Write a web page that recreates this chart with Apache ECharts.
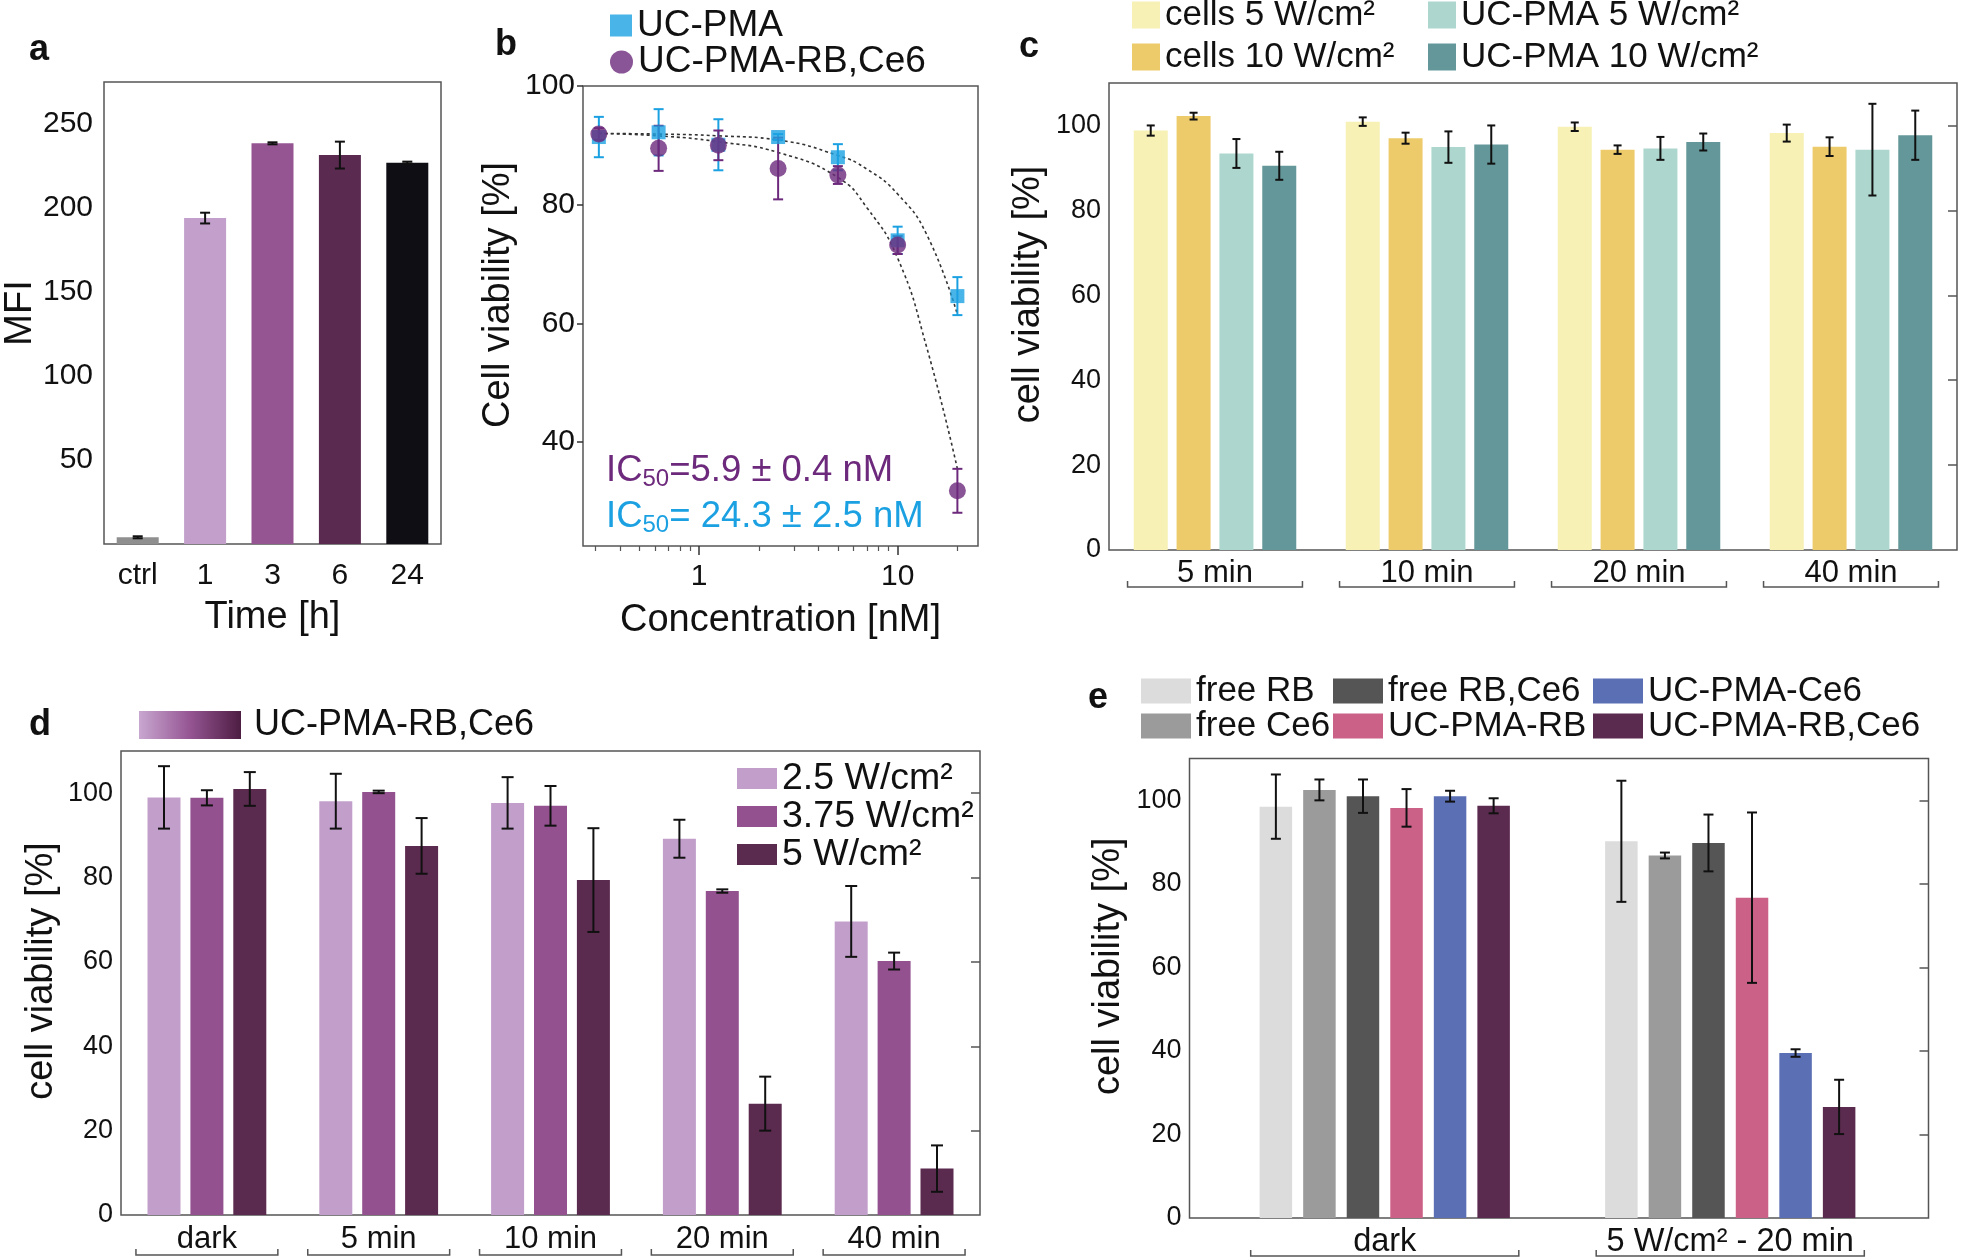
<!DOCTYPE html>
<html>
<head>
<meta charset="utf-8">
<script src="https://cdn.jsdelivr.net/npm/echarts@6/dist/echarts.min.js"></script>
<style>
  html, body { margin: 0; padding: 0; background: #fff; }
  #chart { width: 1961px; height: 1258px; }
</style>
</head>
<body>
<div id="chart"></div>
<script>
// ---- panel a: MFI over time
const aCategories = ['ctrl', '1', '3', '6', '24'];
const aValues = [4, 194, 238.5, 231.5, 227];
const aErrors = [0.6, 3.2, 0.6, 8, 0.6];
const aTicks = [50, 100, 150, 200, 250];

// ---- panel b: dose response
const bConc = [0.3125, 0.625, 1.25, 2.5, 5, 10, 20];
const bPmaMean = [91.4, 92.2, 90.1, 91.4, 88.0, 74.0, 64.6];
const bPmaErr = [3.4, 3.9, 4.3, 0.5, 2.2, 2.3, 3.2];
const bRbCe6Mean = [91.9, 89.5, 90.0, 86.1, 85.0, 73.2, 31.8];
const bRbCe6Err = [1.0, 3.8, 2.5, 5.2, 1.5, 1.5, 3.7];
const bFitConc = [0.3125, 0.625, 1.25, 2.5, 5, 7, 10, 14, 20];
const bFitRbCe6 = [92, 91.6, 90.6, 88.8, 84.6, 79.5, 71, 56, 35.5];
const bFitPma = [92, 91.9, 91.6, 90.9, 88.3, 86, 81.8, 75, 61.5];
const bMajorTicks = [1, 10];
const bMinorTicks = [0.3, 0.4, 0.5, 0.6, 0.7, 0.8, 0.9, 2, 3, 4, 5, 6, 7, 8, 9, 20];
const bYTicks = [40, 60, 80, 100];

// ---- panel c: laser controls
const cGroups = ['5 min', '10 min', '20 min', '40 min'];
const cCells5 = [98.8, 100.9, 99.7, 98.2];
const cCells5Err = [1.2, 1.0, 1.0, 2.0];
const cCells10 = [102.2, 97.0, 94.3, 95.0];
const cCells10Err = [0.8, 1.3, 1.0, 2.2];
const cPma5 = [93.4, 94.9, 94.6, 94.3];
const cPma5Err = [3.4, 3.7, 2.7, 10.8];
const cPma10 = [90.5, 95.5, 96.1, 97.7];
const cPma10Err = [3.3, 4.5, 2.0, 5.8];

// ---- panel d: UC-PMA-RB,Ce6 at three powers
const dGroups = ['dark', '5 min', '10 min', '20 min', '40 min'];
const d25 = [99.0, 98.1, 97.7, 89.2, 69.6];
const d25Err = [7.4, 6.5, 6.1, 4.5, 8.4];
const d375 = [98.9, 100.3, 97.0, 76.8, 60.2];
const d375Err = [1.8, 0.3, 4.7, 0.4, 2.0];
const d5 = [101.0, 87.5, 79.4, 26.4, 11.0];
const d5Err = [4.0, 6.6, 12.3, 6.4, 5.5];

// ---- panel e: free dyes vs particles
const eGroups = ['dark', '5 W/cm\u00b2 - 20 min'];
const eFreeRB = [98.5, 90.2];
const eFreeRBErr = [7.7, 14.5];
const eFreeCe6 = [102.5, 86.8];
const eFreeCe6Err = [2.5, 0.7];
const eFreeRBCe6 = [101.0, 89.8];
const eFreeRBCe6Err = [4.0, 6.8];
const ePmaRB = [98.2, 76.7];
const ePmaRBErr = [4.5, 20.4];
const ePmaCe6 = [101.0, 39.5];
const ePmaCe6Err = [1.3, 0.9];
const ePmaRBCe6 = [98.7, 26.6];
const ePmaRBCe6Err = [1.8, 6.5];

const viabTicks = [0, 20, 40, 60, 80, 100];
const viabRightTicks = [20, 40, 60, 80, 100];

const FONT = "'Liberation Sans', Arial, Helvetica, sans-serif";
const INK = '#111';
const FRAME = '#555';
const NAME_SIZE = 38;

const aColors = ['#8f8f8f', '#c39fcc', '#955592', '#5b2a50', '#0e0e14'];

function errorBars(xi, yi, xs, means, errs, offset, capHalf, color) {
  return {
    type: 'custom', xAxisIndex: xi, yAxisIndex: yi, z: 6, silent: true, clip: false,
    data: means.map((m, i) => [xs ? xs[i] : i, m - errs[i], m + errs[i]]),
    renderItem(params, api) {
      const lo = api.coord([api.value(0), api.value(1)]);
      const hi = api.coord([api.value(0), api.value(2)]);
      const x = lo[0] + offset;
      const style = { stroke: color, lineWidth: 2 };
      return {
        type: 'group',
        children: [
          { type: 'line', shape: { x1: x, y1: lo[1], x2: x, y2: hi[1] }, style },
          { type: 'line', shape: { x1: x - capHalf, y1: lo[1], x2: x + capHalf, y2: lo[1] }, style },
          { type: 'line', shape: { x1: x - capHalf, y1: hi[1], x2: x + capHalf, y2: hi[1] }, style }
        ]
      };
    }
  };
}

function brackets(xi, yi, groups, widthRatio, drop) {
  return {
    type: 'custom', xAxisIndex: xi, yAxisIndex: yi, silent: true, clip: false,
    data: groups.map((g, i) => [i, 0]),
    renderItem(params, api) {
      const c = api.coord([api.value(0), 0]);
      const half = api.size([1, 0])[0] * widthRatio / 2;
      const y = c[1] + drop;
      return {
        type: 'polyline',
        shape: { points: [[c[0] - half, y - 6], [c[0] - half, y], [c[0] + half, y], [c[0] + half, y - 6]] },
        style: { stroke: FRAME, lineWidth: 1.5, fill: null }
      };
    }
  };
}

// grouped bars: offsets of each bar from the band centre
function offsets(n, width, gap) {
  const step = width * (1 + gap);
  return Array.from({ length: n }, (_, i) => (i - (n - 1) / 2) * step);
}

function bar(name, xi, yi, values, color, width, gap) {
  return {
    name, type: 'bar', xAxisIndex: xi, yAxisIndex: yi, data: values,
    barWidth: width, barGap: (gap * 100) + '%', itemStyle: { color }
  };
}

function frameGrid(left, top, width, height) {
  return { left, top, width, height, show: true, borderColor: FRAME, borderWidth: 1.5,
    containLabel: false, outerBoundsMode: 'none' };
}

function catAxis(gi, data, fontSize, margin) {
  return {
    type: 'category', gridIndex: gi, data,
    axisLine: { show: false }, axisTick: { show: false }, splitLine: { show: false },
    axisLabel: { fontSize, color: INK, margin, fontFamily: FONT }
  };
}

// y name shifted up by lift px (padding on the rotated text's leading side)
function nameStyle(lift) {
  return { fontSize: NAME_SIZE, color: INK, fontFamily: FONT, padding: [0, 0, 0, lift * 2] };
}

function viabAxis(gi, name, nameGap, lift) {
  return {
    type: 'value', gridIndex: gi, min: 0, max: 110,
    name, nameLocation: 'middle', nameGap,
    nameTextStyle: nameStyle(lift),
    axisLine: { show: false }, axisTick: { show: false }, splitLine: { show: false },
    axisLabel: { fontSize: 27, color: INK, margin: 8, customValues: viabTicks, fontFamily: FONT }
  };
}

function rightTicks(gi) {
  return {
    type: 'value', gridIndex: gi, min: 0, max: 110, position: 'right',
    axisLine: { show: false }, splitLine: { show: false }, axisLabel: { show: false },
    axisTick: { show: true, inside: true, length: 9, customValues: viabRightTicks, lineStyle: { color: FRAME, width: 1.5 } }
  };
}

function legendCol(names, left, top, w, h, lineHeight, fontSize, icon) {
  return {
    data: names, orient: 'vertical', left, top, padding: 0, itemGap: 0,
    itemWidth: w, itemHeight: h, icon: icon || 'rect', selectedMode: false,
    formatter: n => n.split('|')[1],
    textStyle: { fontSize, lineHeight, color: INK, fontFamily: FONT }
  };
}

const cOff = offsets(4, 34, 0.26);
const dOff = offsets(3, 33, 0.3);
const eOff = offsets(6, 32.5, 0.34);

const panelLetter = (t, x, y) => ({
  type: 'text', x, y,
  style: { text: t, fontSize: 36, fontWeight: 'bold', fill: INK, fontFamily: FONT, align: 'center', verticalAlign: 'middle' }
});

const icRich = color => ({
  a: { fontSize: 36.5, lineHeight: 40, fill: color, fontFamily: FONT },
  s: { fontSize: 24, lineHeight: 22, verticalAlign: 'bottom', fill: color, fontFamily: FONT }
});

const chart = echarts.init(document.getElementById('chart'));
chart.setOption({
  animation: false,
  textStyle: { fontFamily: FONT },
  grid: [
    frameGrid(104, 82, 337, 462),
    frameGrid(583, 86, 395, 460),
    frameGrid(1109, 83, 848, 467),
    frameGrid(121, 751, 859, 464),
    frameGrid(1189.5, 758.6, 739, 459.4),
    { left: 1212, top: 758.6, width: 691, height: 459.4, show: false, containLabel: false, outerBoundsMode: 'none' }
  ],
  xAxis: [
    {
      type: 'category', gridIndex: 0, data: aCategories,
      name: 'Time [h]', nameLocation: 'middle', nameGap: 55,
      nameTextStyle: { fontSize: NAME_SIZE, color: INK },
      axisLine: { show: false }, splitLine: { show: false },
      axisTick: { alignWithLabel: true, length: 7, lineStyle: { color: '#333', width: 1.5 } },
      axisLabel: { fontSize: 30, color: INK, margin: 17 }
    },
    {
      type: 'log', gridIndex: 1, min: 0.26, max: 25.4, position: 'bottom',
      name: 'Concentration [nM]', nameLocation: 'middle', nameGap: 56,
      nameTextStyle: { fontSize: NAME_SIZE, color: INK },
      axisLine: { show: false }, splitLine: { show: false }, minorTick: { show: false },
      axisTick: { length: 9, customValues: bMajorTicks, lineStyle: { color: '#333', width: 1.5 } },
      axisLabel: { fontSize: 30, color: INK, margin: 16, customValues: bMajorTicks }
    },
    {
      type: 'log', gridIndex: 1, min: 0.26, max: 25.4, position: 'bottom',
      axisLine: { show: false }, splitLine: { show: false }, axisLabel: { show: false },
      axisTick: { length: 5, customValues: bMinorTicks, lineStyle: { color: '#555', width: 1.2 } }
    },
    catAxis(2, cGroups, 31, 8),
    catAxis(3, dGroups, 31, 9),
    { type: 'value', gridIndex: 4, min: 0, max: 1, show: false },
    catAxis(5, eGroups, 32.5, 8)
  ],
  yAxis: [
    {
      type: 'value', gridIndex: 0, min: 0, max: 275,
      name: 'MFI', nameLocation: 'middle', nameGap: 58,
      nameTextStyle: nameStyle(0),
      axisLine: { show: false }, splitLine: { show: false },
      axisTick: { length: 6, customValues: aTicks, lineStyle: { color: '#333', width: 1.5 } },
      axisLabel: { fontSize: 30, color: INK, margin: 11, customValues: aTicks }
    },
    {
      type: 'value', gridIndex: 1, min: 22.5, max: 100,
      name: 'Cell viability [%]', nameLocation: 'middle', nameGap: 65,
      nameTextStyle: nameStyle(21),
      axisLine: { show: false }, splitLine: { show: false },
      axisTick: { length: 6, customValues: bYTicks, lineStyle: { color: '#333', width: 1.5 } },
      axisLabel: { fontSize: 30, color: INK, margin: 8, customValues: bYTicks }
    },
    viabAxis(2, 'cell viability [%]', 61, 22),
    rightTicks(2),
    viabAxis(3, 'cell viability [%]', 60, 12),
    rightTicks(3),
    viabAxis(4, 'cell viability [%]', 62, 22),
    rightTicks(4),
    { type: 'value', gridIndex: 5, min: 0, max: 110, show: false }
  ],
  legend: [
    legendCol(['b|UC-PMA'], 610, 7, 22, 22, 28, 37, 'rect'),
    legendCol(['b|UC-PMA-RB,Ce6'], 610, 43.5, 23, 23, 28, 37, 'circle'),
    legendCol(['c|cells 5 W/cm\u00b2', 'c|cells 10 W/cm\u00b2'], 1132, -6, 28, 27, 42, 35),
    legendCol(['c|UC-PMA 5 W/cm\u00b2', 'c|UC-PMA 10 W/cm\u00b2'], 1428, -6, 28, 27, 42, 35),
    legendCol(['d|2.5 W/cm\u00b2', 'd|3.75 W/cm\u00b2', 'd|5 W/cm\u00b2'], 737, 759.5, 40, 21, 37, 37.5),
    legendCol(['e|free RB', 'e|free Ce6'], 1141, 673.5, 50, 25, 33.5, 35),
    legendCol(['e|free RB,Ce6', 'e|UC-PMA-RB'], 1333, 673.5, 50, 25, 33.5, 35),
    legendCol(['e|UC-PMA-Ce6', 'e|UC-PMA-RB,Ce6'], 1593, 673.5, 50, 25, 33.5, 35)
  ],
  graphic: [
    panelLetter('a', 39, 50),
    panelLetter('b', 506, 45),
    panelLetter('c', 1029, 47),
    panelLetter('d', 40, 725),
    panelLetter('e', 1098, 698),
    {
      type: 'rect', shape: { x: 139, y: 711, width: 102, height: 28 },
      style: { fill: new echarts.graphic.LinearGradient(0, 0, 1, 0, [
        { offset: 0, color: '#c8a7d0' }, { offset: 0.5, color: '#955593' }, { offset: 1, color: '#4d1d42' }
      ]) }
    },
    {
      type: 'text', x: 254, y: 725,
      style: { text: 'UC-PMA-RB,Ce6', fontSize: 36, fill: INK, fontFamily: FONT, verticalAlign: 'middle' }
    },
    {
      type: 'text', x: 606, y: 471,
      style: { text: '{a|IC}{s|50}{a|=5.9 \u00b1 0.4 nM}', rich: icRich('#6d2a7c'), verticalAlign: 'middle' }
    },
    {
      type: 'text', x: 606, y: 517,
      style: { text: '{a|IC}{s|50}{a|= 24.3 \u00b1 2.5 nM}', rich: icRich('#1ba1e2'), verticalAlign: 'middle' }
    }
  ],
  series: [
    // a
    {
      type: 'bar', xAxisIndex: 0, yAxisIndex: 0, barWidth: 42,
      data: aValues.map((v, i) => ({ value: v, itemStyle: { color: aColors[i] } }))
    },
    errorBars(0, 0, null, aValues, aErrors, 0, 5, '#111'),

    // b
    {
      name: 'b|fit PMA', type: 'line', xAxisIndex: 1, yAxisIndex: 1, smooth: true, showSymbol: false, silent: true,
      data: bFitConc.map((c, i) => [c, bFitPma[i]]),
      lineStyle: { color: '#333', width: 1.6, type: [3, 3] }, z: 2
    },
    {
      name: 'b|fit RB', type: 'line', xAxisIndex: 1, yAxisIndex: 1, smooth: true, showSymbol: false, silent: true,
      data: bFitConc.map((c, i) => [c, bFitRbCe6[i]]),
      lineStyle: { color: '#333', width: 1.6, type: [3, 3] }, z: 2
    },
    errorBars(1, 1, bConc, bPmaMean, bPmaErr, 0, 5, '#1ba1e2'),
    errorBars(1, 1, bConc, bRbCe6Mean, bRbCe6Err, 0, 5, '#6d2a7c'),
    {
      name: 'b|UC-PMA', type: 'scatter', xAxisIndex: 1, yAxisIndex: 1, symbol: 'rect', symbolSize: 14,
      data: bConc.map((c, i) => [c, bPmaMean[i]]), itemStyle: { color: '#1ba1e2' }, z: 7
    },
    {
      name: 'b|UC-PMA-RB,Ce6', type: 'scatter', xAxisIndex: 1, yAxisIndex: 1, symbol: 'circle', symbolSize: 17,
      data: bConc.map((c, i) => [c, bRbCe6Mean[i]]), itemStyle: { color: '#6d2a7c' }, z: 8
    },

    // c
    bar('c|cells 5 W/cm\u00b2', 3, 2, cCells5, '#f7f1b5', 34, 0.26),
    bar('c|cells 10 W/cm\u00b2', 3, 2, cCells10, '#edcb6a', 34, 0.26),
    bar('c|UC-PMA 5 W/cm\u00b2', 3, 2, cPma5, '#add7ce', 34, 0.26),
    bar('c|UC-PMA 10 W/cm\u00b2', 3, 2, cPma10, '#649799', 34, 0.26),
    errorBars(3, 2, null, cCells5, cCells5Err, cOff[0], 4, '#111'),
    errorBars(3, 2, null, cCells10, cCells10Err, cOff[1], 4, '#111'),
    errorBars(3, 2, null, cPma5, cPma5Err, cOff[2], 4, '#111'),
    errorBars(3, 2, null, cPma10, cPma10Err, cOff[3], 4, '#111'),
    brackets(3, 2, cGroups, 0.825, 37),

    // d
    bar('d|2.5 W/cm\u00b2', 4, 4, d25, '#c29fcb', 33, 0.3),
    bar('d|3.75 W/cm\u00b2', 4, 4, d375, '#93528f', 33, 0.3),
    bar('d|5 W/cm\u00b2', 4, 4, d5, '#5b2a4f', 33, 0.3),
    errorBars(4, 4, null, d25, d25Err, dOff[0], 6, '#111'),
    errorBars(4, 4, null, d375, d375Err, dOff[1], 6, '#111'),
    errorBars(4, 4, null, d5, d5Err, dOff[2], 6, '#111'),
    brackets(4, 4, dGroups, 0.826, 40),

    // e
    bar('e|free RB', 6, 8, eFreeRB, '#dcdcdc', 32.5, 0.34),
    bar('e|free Ce6', 6, 8, eFreeCe6, '#9b9b9b', 32.5, 0.34),
    bar('e|free RB,Ce6', 6, 8, eFreeRBCe6, '#555555', 32.5, 0.34),
    bar('e|UC-PMA-RB', 6, 8, ePmaRB, '#cc6188', 32.5, 0.34),
    bar('e|UC-PMA-Ce6', 6, 8, ePmaCe6, '#5b6fb5', 32.5, 0.34),
    bar('e|UC-PMA-RB,Ce6', 6, 8, ePmaRBCe6, '#5b2a4f', 32.5, 0.34),
    errorBars(6, 8, null, eFreeRB, eFreeRBErr, eOff[0], 5, '#111'),
    errorBars(6, 8, null, eFreeCe6, eFreeCe6Err, eOff[1], 5, '#111'),
    errorBars(6, 8, null, eFreeRBCe6, eFreeRBCe6Err, eOff[2], 5, '#111'),
    errorBars(6, 8, null, ePmaRB, ePmaRBErr, eOff[3], 5, '#111'),
    errorBars(6, 8, null, ePmaCe6, ePmaCe6Err, eOff[4], 5, '#111'),
    errorBars(6, 8, null, ePmaRBCe6, ePmaRBCe6Err, eOff[5], 5, '#111'),
    brackets(6, 8, eGroups, 0.776, 38)
  ]
});
</script>
</body>
</html>
